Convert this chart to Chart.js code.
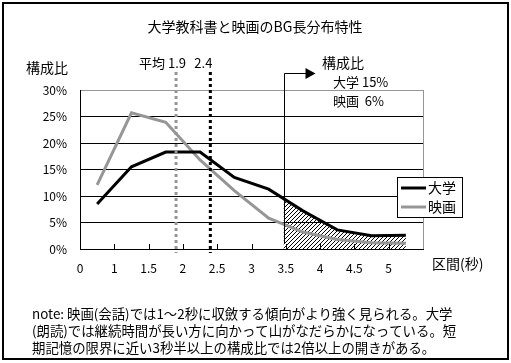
<!DOCTYPE html>
<html>
<head>
<meta charset="utf-8">
<script src="https://cdn.jsdelivr.net/npm/chart.js@4.4.0/dist/chart.umd.min.js"></script>
<style>
  html, body { margin: 0; padding: 0; background: #fff; }
  #wrap { width: 511px; height: 363px; }
</style>
</head>
<body>
<div id="wrap"><canvas id="bgChart" width="511" height="363"></canvas></div>
<script>
// bin centres (seconds) and share of each bin (%)
const binCenters = [0.75, 1.25, 1.75, 2.25, 2.75, 3.25, 3.75, 4.25, 4.75, 5.25];
const univShare = [8.5, 15.5, 18.3, 18.3, 13.5, 11.3, 7.2, 3.6, 2.5, 2.6];
const movieShare = [12.1, 25.7, 23.9, 16.8, 11.0, 5.8, 3.2, 1.8, 1.2, 1.1];
const seriesNames = ['大学', '映画'];

// x tick labels at 0.5 .. 5.5 (first one printed as "0" in the original)
const xTickLabels = ['0', '1', '1.5', '2', '2.5', '3', '3.5', '4', '4.5', '5', ''];
const yTicks = [0, 5, 10, 15, 20, 25, 30];

const meanMovie = 1.9;
const meanUniv = 2.4;
const cutoff = 3.47;
const shareAbove = ['大学 15%', '映画  6%'];

const titleText = '大学教科書と映画のBG長分布特性';
const noteLines = [
  'note: 映画(会話)では1～2秒に収斂する傾向がより強く見られる。大学',
  '(朗読)では継続時間が長い方に向かって山がなだらかになっている。短',
  '期記憶の限界に近い3秒半以上の構成比では2倍以上の開きがある。'
];

const FONT = '"Noto Sans CJK JP", "Noto Sans", sans-serif';
const GRAY = '#969696';

function toPoints(vals) {
  return vals.map((v, i) => ({ x: binCenters[i], y: v }));
}

// diagonal hatch
function makeHatch() {
  const c = document.createElement('canvas');
  c.width = 4; c.height = 4;
  const g = c.getContext('2d');
  g.strokeStyle = '#000';
  g.lineWidth = 1;
  g.beginPath();
  g.moveTo(0, 4); g.lineTo(4, 0);
  g.moveTo(-1, 1); g.lineTo(1, -1);
  g.moveTo(3, 5); g.lineTo(5, 3);
  g.stroke();
  return g.createPattern(c, 'repeat');
}

const hatchPlugin = {
  id: 'hatch',
  beforeDatasetsDraw(chart) {
    const { ctx, chartArea, scales } = chart;
    const pts = chart.getDatasetMeta(0).data;
    const base = scales.y.getPixelForValue(0);
    const x0 = scales.x.getPixelForValue(cutoff);
    ctx.save();
    ctx.beginPath();
    ctx.rect(x0, chartArea.top, chartArea.right - x0, base - chartArea.top);
    ctx.clip();
    ctx.beginPath();
    ctx.moveTo(pts[0].x, base);
    pts.forEach(p => ctx.lineTo(p.x, p.y));
    ctx.lineTo(pts[pts.length - 1].x, base);
    ctx.closePath();
    ctx.fillStyle = makeHatch();
    ctx.fill();
    ctx.restore();
  }
};

const decorPlugin = {
  id: 'decor',
  afterDraw(chart) {
    const { ctx, chartArea, scales } = chart;
    const xs = scales.x, ys = scales.y;
    const base = ys.getPixelForValue(0);
    ctx.save();

    // inner ticks on x axis
    ctx.strokeStyle = '#000';
    ctx.lineWidth = 1;
    xs.ticks.forEach(t => {
      if (t.value <= xs.min || t.value >= xs.max) return;
      const px = Math.round(xs.getPixelForValue(t.value)) + 0.5;
      ctx.beginPath();
      ctx.moveTo(px, base);
      ctx.lineTo(px, base - 5);
      ctx.stroke();
    });

    // mean lines
    const top = 72;
    [[meanMovie, GRAY], [meanUniv, '#000']].forEach(([v, col]) => {
      const px = xs.getPixelForValue(v);
      ctx.strokeStyle = col;
      ctx.lineWidth = 3;
      ctx.setLineDash([3, 3]);
      ctx.beginPath();
      ctx.moveTo(px, top);
      ctx.lineTo(px, base + 4);
      ctx.stroke();
    });
    ctx.setLineDash([]);

    // cutoff line and arrow
    const cx = Math.round(xs.getPixelForValue(cutoff)) + 0.5;
    ctx.strokeStyle = '#000';
    ctx.lineWidth = 1;
    ctx.beginPath();
    ctx.moveTo(cx, base - 6);
    ctx.lineTo(cx, 73.5);
    ctx.lineTo(cx + 22, 73.5);
    ctx.stroke();
    ctx.fillStyle = '#000';
    ctx.beginPath();
    ctx.moveTo(cx + 21, 68);
    ctx.lineTo(cx + 31, 73.5);
    ctx.lineTo(cx + 21, 79);
    ctx.closePath();
    ctx.fill();

    // texts
    ctx.fillStyle = '#000';
    ctx.textBaseline = 'middle';
    ctx.font = '14px ' + FONT;
    ctx.textAlign = 'center';
    ctx.fillText(titleText, 255, 27);
    ctx.textAlign = 'left';
    ctx.fillText('構成比', 26, 68);
    ctx.fillText('構成比', 322, 63);
    ctx.font = '13px ' + FONT;
    ctx.fillText(shareAbove[0], 333, 82);
    ctx.fillText(shareAbove[1], 333, 101);
    ctx.textAlign = 'right';
    ctx.fillText('平均 ' + meanMovie.toFixed(1), xs.getPixelForValue(meanMovie) + 10, 63);
    ctx.textAlign = 'center';
    ctx.fillText(meanUniv.toFixed(1), xs.getPixelForValue(meanUniv) - 7, 63);
    ctx.textAlign = 'left';
    ctx.font = '14px ' + FONT;
    ctx.fillText('区間(秒)', 432, 264);

    // legend
    const lx = 397, ly = 177, lw = 65, lh = 40;
    ctx.fillStyle = '#fff';
    ctx.fillRect(lx, ly, lw, lh);
    ctx.strokeStyle = '#000';
    ctx.lineWidth = 1;
    ctx.strokeRect(lx + 0.5, ly + 0.5, lw, lh);
    chart.data.datasets.forEach((ds, i) => {
      const ry = ly + 11 + i * 19;
      ctx.strokeStyle = ds.borderColor;
      ctx.lineWidth = 3;
      ctx.beginPath();
      ctx.moveTo(lx + 4, ry);
      ctx.lineTo(lx + 29, ry);
      ctx.stroke();
      ctx.fillStyle = '#000';
      ctx.font = '14px ' + FONT;
      ctx.textAlign = 'left';
      ctx.fillText(ds.label, lx + 31, ry);
    });

    // note
    ctx.font = '13.4px ' + FONT;
    ctx.fillStyle = '#000';
    noteLines.forEach((s, i) => ctx.fillText(s, 32, 314 + i * 17));

    // outer frame
    ctx.strokeStyle = '#000';
    ctx.lineWidth = 2;
    ctx.strokeRect(3, 3, 505, 356);
    ctx.restore();
  }
};

const ctx = document.getElementById('bgChart').getContext('2d');
const chart = new Chart(ctx, {
  type: 'line',
  data: {
    datasets: [{
      label: seriesNames[0],
      data: toPoints(univShare),
      borderColor: '#000',
      borderWidth: 3,
      pointRadius: 0,
      tension: 0,
      fill: false
    }, {
      label: seriesNames[1],
      data: toPoints(movieShare),
      borderColor: GRAY,
      borderWidth: 3,
      pointRadius: 0,
      tension: 0,
      fill: false
    }]
  },
  options: {
    responsive: false,
    animation: false,
    events: [],
    layout: { padding: { left: 0, top: 90, right: 88, bottom: 0 } },
    plugins: {
      legend: { display: false },
      tooltip: { enabled: false }
    },
    scales: {
      x: {
        type: 'linear',
        min: 0.5,
        max: 5.5,
        afterFit(scale) { scale.height = 114; },
        afterBuildTicks(scale) {
          scale.ticks = xTickLabels.map((_, i) => ({ value: 0.5 + i * 0.5 }));
        },
        ticks: {
          autoSkip: false,
          maxRotation: 0,
          padding: 12,
          color: '#000',
          font: { family: FONT, size: 12 },
          callback: (v, i) => xTickLabels[i]
        },
        grid: {
          drawTicks: false,
          color: c => (c.tick && c.tick.value === 5.5 ? GRAY : 'rgba(0,0,0,0)')
        },
        border: { color: '#000', width: 1 }
      },
      y: {
        min: 0,
        max: 30,
        afterFit(scale) { scale.width = 80; },
        afterBuildTicks(scale) {
          scale.ticks = yTicks.map(v => ({ value: v }));
        },
        ticks: {
          padding: 13,
          color: '#000',
          font: { family: FONT, size: 12 },
          callback: v => v + '%'
        },
        grid: {
          drawTicks: false,
          color: c => (c.tick && c.tick.value === 30 ? GRAY : '#000')
        },
        border: { color: '#000', width: 1 }
      }
    }
  },
  plugins: [hatchPlugin, decorPlugin]
});
</script>
</body>
</html>
